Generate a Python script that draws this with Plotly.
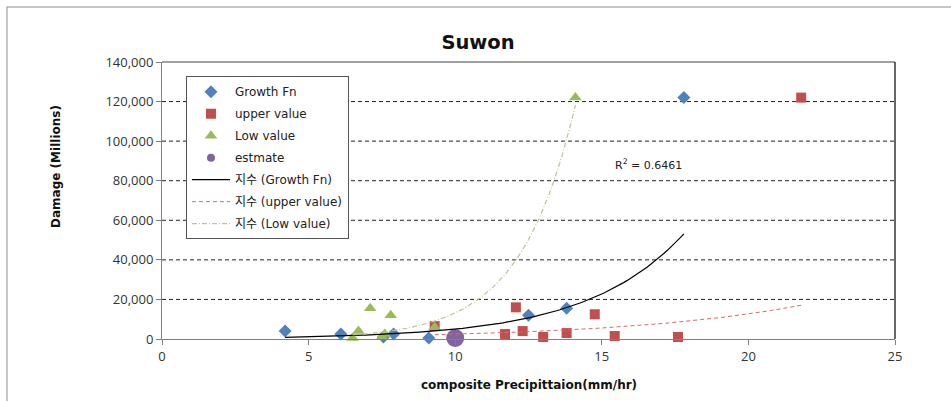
import numpy as np
import plotly.graph_objects as go

# Observations: composite precipitation (mm/hr) vs. damage (millions)
growth_x = [4.2, 6.1, 7.55, 7.9, 9.1, 12.5, 13.8, 17.8]
growth_y = [4000, 2500, 1000, 2500, 500, 12000, 15600, 122000]

upper_x = [9.3, 11.7, 12.07, 12.3, 13.0, 13.8, 14.76, 15.44, 17.6, 21.8]
upper_y = [6500, 2500, 16000, 4000, 1000, 3000, 12500, 1500, 1000, 122000]

low_x = [6.5, 6.7, 7.1, 7.5, 7.6, 7.8, 9.3, 14.1]
low_y = [500, 4000, 15500, 1000, 2500, 12000, 6000, 122000]

estimate_x = [10.0]
estimate_y = [500]

r2_label = "R<sup>2</sup> = 0.6461"

x_ticks = [0, 5, 10, 15, 20, 25]
y_ticks = [0, 20000, 40000, 60000, 80000, 100000, 120000, 140000]

BLUE = "#4F81BD"
RED = "#C0504D"
GREEN = "#9BBB59"
PURPLE = "#8064A2"

FONT = "DejaVu Sans, Noto Sans CJK KR, sans-serif"
TICKFONT = "Open Sans, sans-serif"


def exp_fit(xs, ys, n=120):
    """Least-squares exponential trendline y = a*exp(b*x), drawn over the data span."""
    xs = np.asarray(xs, float)
    ys = np.asarray(ys, float)
    b, ln_a = np.polyfit(xs, np.log(ys), 1)
    xx = np.linspace(xs.min(), xs.max(), n)
    return xx, np.exp(ln_a) * np.exp(b * xx)


fig = go.Figure()

point_series = [
    ("Growth Fn", growth_x, growth_y, "diamond", BLUE, 10),
    ("upper value", upper_x, upper_y, "square", RED, 10),
    ("Low value", low_x, low_y, "triangle-up", GREEN, 11),
]
for i, (name, xs, ys, sym, col, size) in enumerate(point_series):
    fig.add_trace(go.Scatter(
        x=xs, y=ys, mode="markers", name=name, legendgroup=f"g{i}", cliponaxis=False,
        marker=dict(symbol=sym, color=col, size=size, line=dict(width=0)),
    ))

# legend entry for the estimate (small marker), then the estimate point itself
fig.add_trace(go.Scatter(
    x=[None], y=[None], mode="markers", name="estmate", legendgroup="g3",
    marker=dict(symbol="circle", color=PURPLE, size=8),
))
fig.add_trace(go.Scatter(
    x=estimate_x, y=estimate_y, mode="markers", name="estmate", legendgroup="g3",
    showlegend=False, cliponaxis=False,
    marker=dict(symbol="circle", color=PURPLE, size=18),
))

trend_series = [
    ("지수 (Growth Fn)", growth_x, growth_y, dict(color="#000000", width=1.2, dash="solid")),
    ("지수 (upper value)", upper_x, upper_y, dict(color="#D46A6A", width=1, dash="4px,3px")),
    ("지수 (Low value)", low_x, low_y, dict(color="#C2C29A", width=1.2, dash="5px,2px,1px,2px")),
]
for i, (name, xs, ys, line) in enumerate(trend_series):
    tx, ty = exp_fit(xs, ys)
    fig.add_trace(go.Scatter(
        x=tx, y=ty, mode="lines", name=name, legendgroup=f"t{i}", line=line,
    ))

# gridlines drawn as dashed shapes across the plot area
for v in y_ticks[1:-1]:
    fig.add_shape(type="line", xref="paper", x0=0, x1=1, yref="y", y0=v, y1=v,
                  line=dict(color="#222222", width=1, dash="4px,3px"), layer="below")

# plot-area frame: top edge gray, right edge black
fig.add_shape(type="line", xref="paper", x0=0, x1=1, yref="paper", y0=1, y1=1,
              line=dict(color="#808080", width=1.5))
fig.add_shape(type="line", xref="paper", x0=1, x1=1, yref="paper", y0=0, y1=1,
              line=dict(color="#000000", width=1.2))

# outer chart frame
fig.add_shape(type="rect", xref="paper", yref="paper",
              x0=-0.2115, x1=1.12, y0=-0.3, y1=1.1986,
              line=dict(color="#8C8C8C", width=1), fillcolor="rgba(0,0,0,0)")

fig.add_annotation(text=r2_label, xref="x", yref="y", x=16.6, y=88000,
                   showarrow=False, font=dict(family=FONT, size=11, color="#222"))

fig.add_annotation(text="<b>composite Precipittaion(mm/hr)</b>", xref="paper", yref="paper",
                   x=0.5, y=-0.166, yanchor="middle", showarrow=False,
                   font=dict(family=FONT, size=12, color="#111"))
fig.add_annotation(text="<b>Damage (Millions)</b>", xref="paper", yref="paper",
                   x=-0.1439, y=0.623, xanchor="center", yanchor="middle", textangle=-90,
                   showarrow=False, font=dict(family=FONT, size=12, color="#111"))

fig.update_layout(
    width=951, height=401,
    margin=dict(l=162, r=56, t=62, b=62),
    paper_bgcolor="white", plot_bgcolor="white",
    title=dict(text="<b>Suwon</b>", x=478 / 951, xanchor="center", xref="container",
               y=1 - 42 / 401, yanchor="middle", yref="container",
               font=dict(family=FONT, size=19.5, color="#111")),
    showlegend=True,
    legend=dict(
        x=0.0327, y=0.949, xanchor="left", yanchor="top",
        bgcolor="white", bordercolor="#555", borderwidth=1,
        font=dict(family=FONT, size=12, color="#222"),
        traceorder="grouped", tracegroupgap=3, itemwidth=38,
    ),
    xaxis=dict(range=[0, 25], tickvals=x_ticks, showgrid=False, zeroline=False,
               showline=True, linecolor="#808080", linewidth=1,
               ticks="outside", ticklen=5, tickcolor="#808080",
               tickfont=dict(family=TICKFONT, size=13, color="#333")),
    yaxis=dict(range=[0, 140000], tickvals=y_ticks, tickformat=",d", showgrid=False,
               zeroline=False, showline=True, linecolor="#808080", linewidth=1,
               ticks="outside", ticklen=5, tickcolor="#808080",
               tickfont=dict(family=TICKFONT, size=13, color="#333")),
)

fig.write_html("out.html")
